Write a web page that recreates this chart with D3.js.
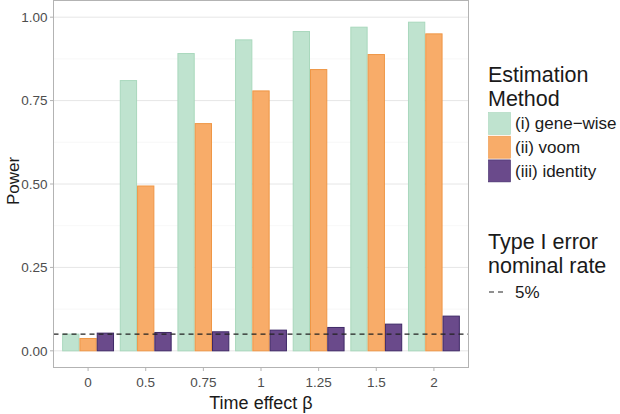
<!DOCTYPE html>
<html><head><meta charset="utf-8">
<script src="https://cdn.jsdelivr.net/npm/d3@7"></script>
<style>body{margin:0;background:#fff}text{font-family:"Liberation Sans",Arial,sans-serif}</style>
</head><body><svg id="c" width="620" height="414"></svg>
<script>
const categories = ["0","0.5","0.75","1","1.25","1.5","2"];
const methods = ["(i) gene\u2212wise","(ii) voom","(iii) identity"];
const geneWise = [0.050,0.810,0.891,0.932,0.957,0.970,0.985];
const voom     = [0.037,0.494,0.681,0.779,0.843,0.888,0.950];
const identity = [0.053,0.055,0.057,0.062,0.070,0.080,0.104];
const yTicks = [0,0.25,0.5,0.75,1];
const yMinor = [0.125,0.375,0.625,0.875];
const nominalRate = 0.05;
const fills = ["#bfe3cf","#f8ac69","#6a4a8b"];
const strokes = ["#a9d8bd","#ef9645","#3e2866"];

const svg = d3.select("#c");
const L=53.5, R=468.5, T=0.5, B=367.5;
const x = d3.scalePoint().domain(categories).range([L,R]).padding(0.6);
const step = x.step();
const barW = step*0.9/3;
const y = d3.scaleLinear().domain([-0.05,1.05]).range([B,T]);

const g = svg.append("g");
g.selectAll(".minor").data(yMinor).enter().append("line")
  .attr("x1",L).attr("x2",R).attr("y1",d=>y(d)).attr("y2",d=>y(d))
  .attr("stroke","#f4f4f4").attr("stroke-width",0.6);
g.selectAll(".major").data(yTicks).enter().append("line")
  .attr("x1",L).attr("x2",R).attr("y1",d=>y(d)).attr("y2",d=>y(d))
  .attr("stroke","#e6e6e6").attr("stroke-width",1);

const series=[geneWise,voom,identity];
series.forEach((vals,si)=>{
  g.selectAll(".b"+si).data(categories).enter().append("rect")
   .attr("x",(c)=>x(c)-1.5*barW+si*barW+0.5)
   .attr("width",barW-1)
   .attr("y",(c,i)=>y(vals[i]))
   .attr("height",(c,i)=>y(0)-y(vals[i]))
   .attr("fill",fills[si]).attr("stroke",strokes[si]).attr("stroke-width",1);
});

g.append("line").attr("x1",L).attr("x2",R).attr("y1",y(nominalRate)).attr("y2",y(nominalRate))
 .attr("stroke","#222").attr("stroke-width",1.1).attr("stroke-dasharray","5,4");

g.append("rect").attr("x",L).attr("y",T).attr("width",R-L).attr("height",B-T)
 .attr("fill","none").attr("stroke","#b3b3b3").attr("stroke-width",1);

g.selectAll(".yt").data(yTicks).enter().append("line")
 .attr("x1",L-3.5).attr("x2",L).attr("y1",d=>y(d)).attr("y2",d=>y(d)).attr("stroke","#b3b3b3");
g.selectAll(".yl").data(yTicks).enter().append("text")
 .attr("x",L-6).attr("y",d=>y(d)).attr("dy","0.35em").attr("text-anchor","end")
 .attr("font-size",13.5).attr("fill","#4d4d4d").text(d=>d3.format(".2f")(d));
g.selectAll(".xt").data(categories).enter().append("line")
 .attr("x1",d=>x(d)).attr("x2",d=>x(d)).attr("y1",B).attr("y2",B+3.5).attr("stroke","#b3b3b3");
g.selectAll(".xl").data(categories).enter().append("text")
 .attr("x",d=>x(d)).attr("y",B+15).attr("dy","0.35em").attr("text-anchor","middle")
 .attr("font-size",13.5).attr("fill","#4d4d4d").text(d=>d);

svg.append("text").attr("x",(L+R)/2).attr("y",409).attr("text-anchor","middle")
 .attr("font-size",18).attr("fill","#1a1a1a").text("Time effect \u03b2");
svg.append("text").attr("transform","translate(19,181) rotate(-90)").attr("text-anchor","middle")
 .attr("font-size",17).attr("fill","#1a1a1a").text("Power");

const lg = svg.append("g");
lg.append("text").attr("x",488).attr("y",82).attr("font-size",21.5).attr("fill","#1a1a1a").text("Estimation");
lg.append("text").attr("x",488).attr("y",106).attr("font-size",21.5).attr("fill","#1a1a1a").text("Method");
methods.forEach((m,i)=>{
  const ky=112.5+i*23.7;
  lg.append("rect").attr("x",488.5).attr("y",ky).attr("width",22).attr("height",22)
    .attr("fill",fills[i]).attr("stroke",strokes[i]).attr("stroke-width",0.6);
  lg.append("text").attr("x",515).attr("y",ky+11).attr("dy","0.35em").attr("font-size",17)
    .attr("fill","#1a1a1a").text(m);
});
lg.append("text").attr("x",488).attr("y",249).attr("font-size",21.5).attr("fill","#1a1a1a").text("Type I error");
lg.append("text").attr("x",488).attr("y",273).attr("font-size",21.5).attr("fill","#1a1a1a").text("nominal rate");
lg.append("line").attr("x1",489).attr("x2",507).attr("y1",292).attr("y2",292)
  .attr("stroke","#222").attr("stroke-width",1.1).attr("stroke-dasharray","5,4");
lg.append("text").attr("x",515).attr("y",292).attr("dy","0.35em").attr("font-size",17)
  .attr("fill","#1a1a1a").text("5%");
</script></body></html>
